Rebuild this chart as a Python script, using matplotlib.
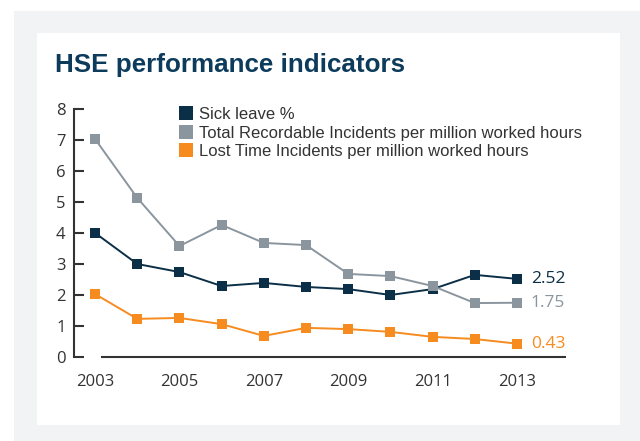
import matplotlib
matplotlib.use("Agg")
import matplotlib.pyplot as plt
from matplotlib.patches import Rectangle

years = [2003, 2004, 2005, 2006, 2007, 2008, 2009, 2010, 2011, 2012, 2013]
sick_leave = [4.00, 3.00, 2.74, 2.29, 2.39, 2.26, 2.19, 2.00, 2.19, 2.65, 2.52]
tri = [7.03, 5.13, 3.58, 4.26, 3.68, 3.61, 2.68, 2.61, 2.29, 1.74, 1.75]
lti = [2.03, 1.23, 1.26, 1.06, 0.68, 0.94, 0.90, 0.81, 0.65, 0.58, 0.43]
series_names = ["Sick leave %",
                "Total Recordable Incidents per million worked hours",
                "Lost Time Incidents per million worked hours"]
end_labels = ["2.52", "1.75", "0.43"]
xtick_years = [2003, 2005, 2007, 2009, 2011, 2013]
yticks = [0, 1, 2, 3, 4, 5, 6, 7, 8]
title = "HSE performance indicators"

NAVY = "#0b2f46"
GREY = "#8a959e"
ORANGE = "#f68b1f"
TEXT = "#333333"

W, H = 640, 441
fig = plt.figure(figsize=(W / 100, H / 100), dpi=100)
fig.patch.set_facecolor("white")

# background panels
fig.patches.append(Rectangle((14 / W, 0), 1 - 14 / W, 1 - 11 / H, transform=fig.transFigure,
                             facecolor="#f2f3f5", edgecolor="none", zorder=-10))
fig.patches.append(Rectangle((37 / W, 1 - 425 / H), (620 - 37) / W, (425 - 33) / H,
                             transform=fig.transFigure, facecolor="white",
                             edgecolor="none", zorder=-9))

fig.text(55 / W, 1 - 65 / H, title, fontsize=18.7, fontweight="bold", color="#0d3b5c",
         family="Liberation Sans", va="center", ha="left")

ax = fig.add_axes([74 / W, 1 - 357 / H, (580.3 - 74) / W, 248 / H])
ax.set_facecolor("none")
ax.set_xlim(2002.5, 2014.5)
ax.set_ylim(0, 8)

colors = [NAVY, GREY, ORANGE]
data = [sick_leave, tri, lti]
for vals, c, name in zip(data, colors, series_names):
    ax.plot(years, vals, color=c, lw=1.4, marker="s", markersize=7.6,
            markeredgewidth=0, label=name, clip_on=False)

for vals, c, lab in zip(data, colors, end_labels):
    ax.annotate(lab, (years[-1], vals[-1]), xytext=(10, 0), textcoords="offset points",
                color=c, fontsize=12.5, family="Open Sans", va="center", ha="left")

for s in ["top", "right", "bottom"]:
    ax.spines[s].set_visible(False)
ax.spines["left"].set_color(TEXT)
ax.spines["left"].set_linewidth(1.5)
ax.hlines(0, 2003.14, 2014.16, color=TEXT, lw=1.5, clip_on=False)

ax.set_yticks(yticks)
ax.set_xticks(xtick_years)
ax.set_xticklabels([str(y) for y in xtick_years])
ax.tick_params(axis="y", direction="in", length=7, width=1.5, color=TEXT, pad=6,
               labelsize=12, labelcolor=TEXT)
ax.tick_params(axis="x", length=0, pad=12, labelsize=12, labelcolor=TEXT)
for lab in ax.get_xticklabels() + ax.get_yticklabels():
    lab.set_family("Open Sans")

leg = ax.legend(loc="upper left", bbox_to_anchor=((172 - 74) / (580.3 - 74), 1.035),
                frameon=False, handlelength=0.9, handletextpad=0.3, labelspacing=0.22,
                prop={"family": "Liberation Sans", "size": 12}, labelcolor=TEXT,
                borderaxespad=0)
for h in leg.legend_handles:
    h.set_linestyle("none")
    h.set_markersize(9.5)

fig.savefig("out.png", dpi=100)
